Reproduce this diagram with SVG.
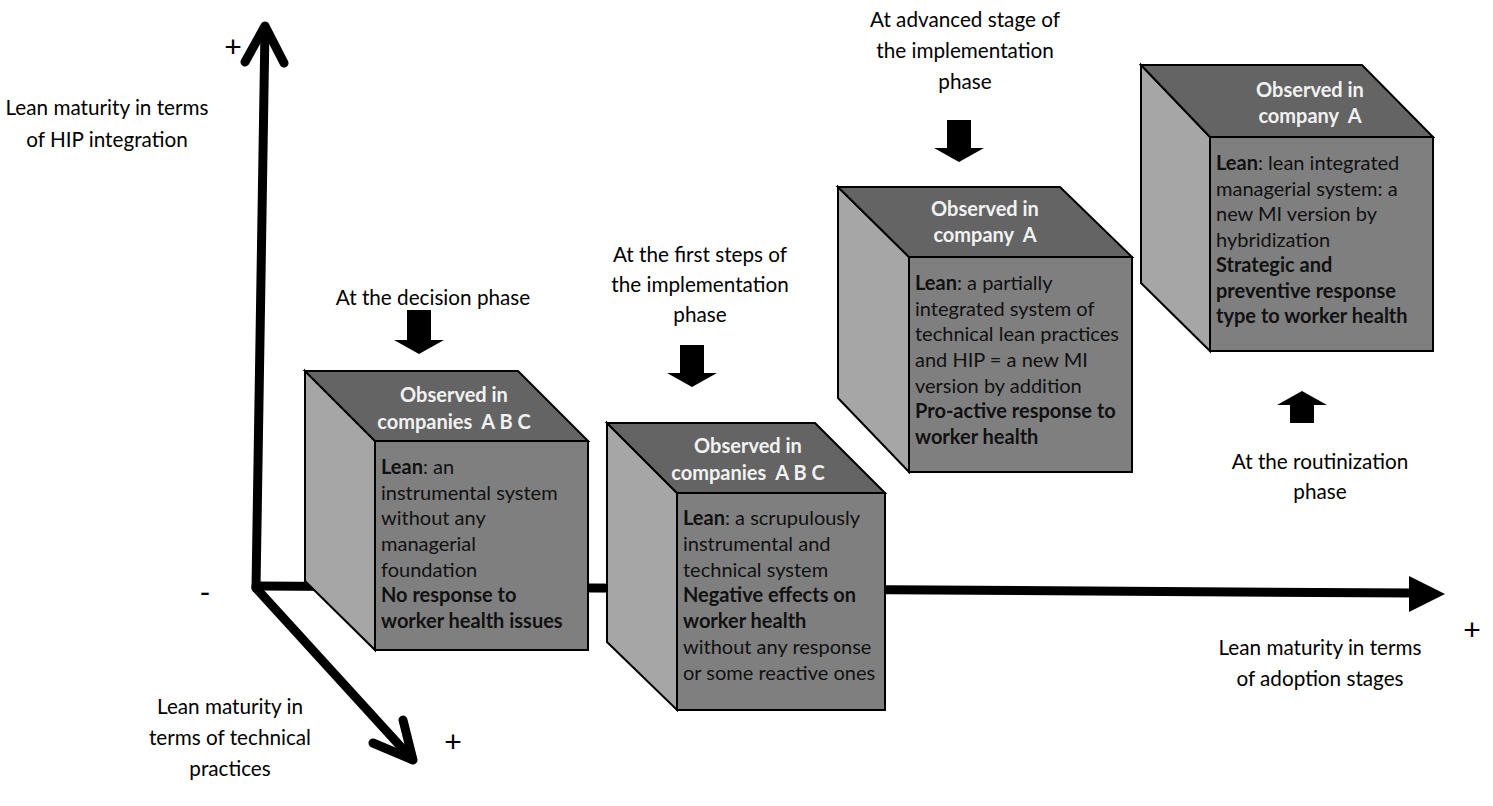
<svg xmlns="http://www.w3.org/2000/svg" width="1493" height="806" viewBox="0 0 1493 806">
<style>
.lbl{font-family:Lato,"Open Sans","Liberation Sans",sans-serif;font-size:20.7px;fill:#000;text-anchor:middle}
.sign{font-family:"Liberation Sans",Arial,sans-serif;font-size:30px;fill:#000;text-anchor:middle}
.hdr{font-family:Lato,"Open Sans","Liberation Sans",sans-serif;font-size:20px;font-weight:bold;fill:#f2f2f2;text-anchor:middle}
.body{font-family:Lato,"Open Sans","Liberation Sans",sans-serif;font-size:20px;fill:#111}
.b{font-weight:bold}
.top{fill:#646464;stroke:#000;stroke-width:2;stroke-linejoin:miter}
.side{fill:#a6a6a6;stroke:#000;stroke-width:2}
.front{fill:#7f7f7f;stroke:#000;stroke-width:2}
.axis{stroke:#000;stroke-width:9;fill:none;stroke-linecap:round;stroke-linejoin:round}
.blk{fill:#000}
</style>
<rect width="1493" height="806" fill="#fff"/>
<g id="connectors">
<line class="axis" x1="256" y1="588" x2="265" y2="28"/>
<polyline class="axis" points="245,62 265,26 284,63"/>
<line class="axis" x1="256" y1="586" x2="1412" y2="593"/>
<polygon class="blk" points="1409,576 1445,594 1409,612"/>
<line class="axis" x1="256" y1="588" x2="412" y2="759"/>
<polyline class="axis" points="373,743 413,760 403,720"/>
<path id="arrow1" class="blk" d="M407,310 H431 V340 H444 L419,354 L394,340 H407 Z"/>
<path id="arrow2" class="blk" d="M680,345 H704 V373 H717 L692,387 L667,373 H680 Z"/>
<path id="arrow3" class="blk" d="M947,120 H971 V148 H984 L959,162 L934,148 H947 Z"/>
<path id="arrow4" class="blk" d="M1290,423 H1314 V405 H1327 L1302,391 L1277,405 H1290 Z"/>
</g>
<g id="axis-labels">
<text class="sign" x="233" y="57">+</text>
<text class="lbl" x="107" y="115">Lean maturity in terms</text>
<text class="lbl" x="107" y="147">of HIP integration</text>
<text class="sign" x="205" y="602">-</text>
<text class="lbl" x="1320" y="655">Lean maturity in terms</text>
<text class="lbl" x="1320" y="686">of adoption stages</text>
<text class="sign" x="1472" y="640">+</text>
<text class="lbl" x="230" y="714">Lean maturity in</text>
<text class="lbl" x="230" y="745">terms of technical</text>
<text class="lbl" x="230" y="776">practices</text>
<text class="sign" x="453" y="752">+</text>
</g>
<g id="phase-labels">
<text class="lbl" x="433" y="305">At the decision phase</text>
<text class="lbl" x="700" y="262">At the first steps of</text>
<text class="lbl" x="700" y="292">the implementation</text>
<text class="lbl" x="700" y="322">phase</text>
<text class="lbl" x="965" y="27">At advanced stage of</text>
<text class="lbl" x="965" y="58">the implementation</text>
<text class="lbl" x="965" y="89">phase</text>
<text class="lbl" x="1320" y="469">At the routinization</text>
<text class="lbl" x="1320" y="499">phase</text>
</g>
<g id="cube1">
<polygon class="side" points="305,371 375,441 375,650 305,581"/>
<polygon class="top" points="305,371 518,371 588,441 375,441"/>
<rect class="front" x="375" y="441" width="213" height="209"/>
<text class="hdr" x="454" y="402">Observed in</text>
<text class="hdr" x="454" y="429" xml:space="preserve">companies  A B C</text>
<text class="body" x="381" y="474"><tspan class="b">Lean</tspan>: an</text>
<text class="body" x="381" y="500">instrumental system</text>
<text class="body" x="381" y="525">without any</text>
<text class="body" x="381" y="551">managerial</text>
<text class="body" x="381" y="577">foundation</text>
<text class="body b" x="381" y="602">No response to</text>
<text class="body b" x="381" y="628">worker health issues</text>
</g>
<g id="cube2">
<polygon class="side" points="607,423 677,493 677,710 607,642"/>
<polygon class="top" points="607,423 815,423 885,493 677,493"/>
<rect class="front" x="677" y="493" width="208" height="217"/>
<text class="hdr" x="748" y="453">Observed in</text>
<text class="hdr" x="748" y="480" xml:space="preserve">companies  A B C</text>
<text class="body" x="683" y="525"><tspan class="b">Lean</tspan>: a scrupulously</text>
<text class="body" x="683" y="551">instrumental and</text>
<text class="body" x="683" y="577">technical system</text>
<text class="body b" x="683" y="602">Negative effects on</text>
<text class="body b" x="683" y="628">worker health</text>
<text class="body" x="683" y="654">without any response</text>
<text class="body" x="683" y="680">or some reactive ones</text>
</g>
<g id="cube3">
<polygon class="side" points="838,187 909,257 909,472 838,398"/>
<polygon class="top" points="838,187 1060,187 1132,257 909,257"/>
<rect class="front" x="909" y="257" width="223" height="215"/>
<text class="hdr" x="985" y="216">Observed in</text>
<text class="hdr" x="985" y="242" xml:space="preserve">company  A</text>
<text class="body" x="915" y="290"><tspan class="b">Lean</tspan>: a partially</text>
<text class="body" x="915" y="316">integrated system of</text>
<text class="body" x="915" y="341">technical lean practices</text>
<text class="body" x="915" y="367">and HIP = a new MI</text>
<text class="body" x="915" y="393">version by addition</text>
<text class="body b" x="915" y="418">Pro-active response to</text>
<text class="body b" x="915" y="444">worker health</text>
</g>
<g id="cube4">
<polygon class="side" points="1141,65 1210,137 1210,351 1141,283"/>
<polygon class="top" points="1141,65 1362,65 1433,137 1210,137"/>
<rect class="front" x="1210" y="137" width="223" height="214"/>
<text class="hdr" x="1310" y="97">Observed in</text>
<text class="hdr" x="1310" y="123" xml:space="preserve">company  A</text>
<text class="body" x="1216" y="170"><tspan class="b">Lean</tspan>: lean integrated</text>
<text class="body" x="1216" y="196">managerial system: a</text>
<text class="body" x="1216" y="221">new MI version by</text>
<text class="body" x="1216" y="247">hybridization</text>
<text class="body b" x="1216" y="272">Strategic and</text>
<text class="body b" x="1216" y="298">preventive response</text>
<text class="body b" x="1216" y="323">type to worker health</text>
</g>
</svg>
